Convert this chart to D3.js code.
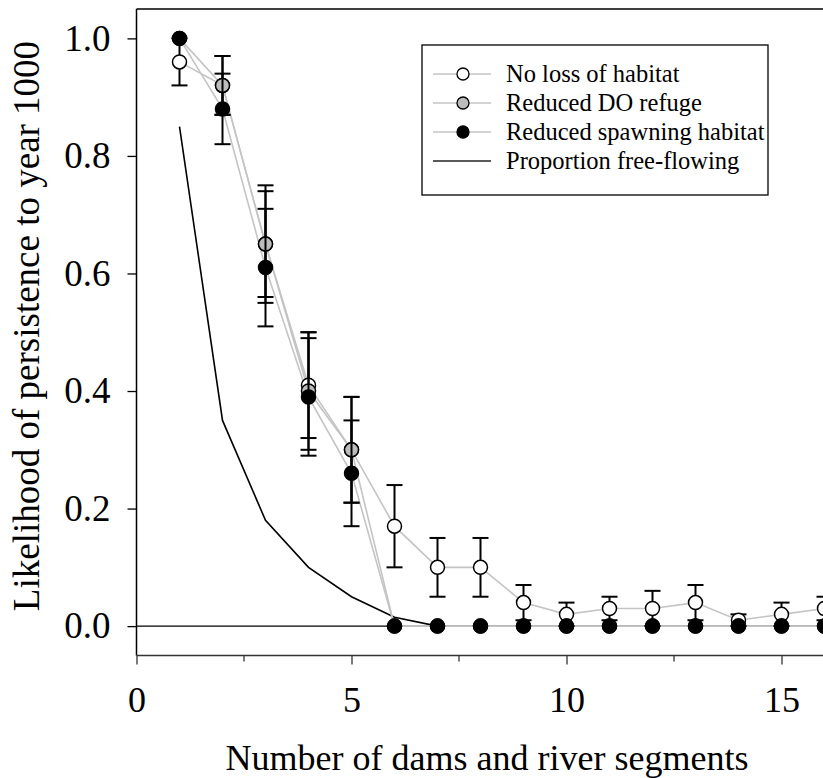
<!DOCTYPE html>
<html>
<head>
<meta charset="utf-8">
<script src="https://cdn.jsdelivr.net/npm/d3@7"></script>
<style>
  html, body { margin: 0; padding: 0; background: #fff; }
  svg { display: block; }
  text { font-family: "Liberation Serif", "Times New Roman", serif; fill: #000; }
</style>
</head>
<body>
<svg id="chart" width="823" height="778"></svg>
<script>
// Number of dams / river segments
const dams = [1, 2, 3, 4, 5, 6, 7, 8, 9, 10, 11, 12, 13, 14, 15, 16];

// Likelihood of persistence to year 1000 (mean and error half-width)
const noLoss      = [0.96, 0.92, 0.65, 0.41, 0.30, 0.17, 0.10, 0.10, 0.04, 0.02, 0.03, 0.03, 0.04, 0.01, 0.02, 0.03];
const noLossErr   = [0.04, 0.05, 0.09, 0.09, 0.09, 0.07, 0.05, 0.05, 0.03, 0.02, 0.02, 0.03, 0.03, 0.01, 0.02, 0.02];
const doRefuge    = [1.00, 0.92, 0.65, 0.40, 0.30, 0, 0, 0, 0, 0, 0, 0, 0, 0, 0, 0];
const doRefugeErr = [0, 0.05, 0.10, 0.10, 0.09, 0, 0, 0, 0, 0, 0, 0, 0, 0, 0, 0];
const spawning    = [1.00, 0.88, 0.61, 0.39, 0.26, 0, 0, 0, 0, 0, 0, 0, 0, 0, 0, 0];
const spawningErr = [0, 0.06, 0.10, 0.10, 0.09, 0, 0, 0, 0, 0, 0, 0, 0, 0, 0, 0];

// Proportion of the river that remains free-flowing
const freeFlowing = [0.85, 0.35, 0.18, 0.10, 0.05, 0.015, 0, 0, 0, 0, 0, 0, 0, 0, 0, 0];

const xTicks = [0, 5, 10, 15];
const xMinorTicks = [2.5, 7.5, 12.5];
const yTicks = [0, 0.2, 0.4, 0.6, 0.8, 1.0];

const series = [
  { name: "No loss of habitat",        values: noLoss,   errors: noLossErr,   fill: "#ffffff" },
  { name: "Reduced DO refuge",         values: doRefuge, errors: doRefugeErr, fill: "#bdbdbd" },
  { name: "Reduced spawning habitat",  values: spawning, errors: spawningErr, fill: "#000000" }
];

const W = 823, H = 778;
const plotLeft = 136.5, plotTop = 9, plotBottom = 655.5;

const svg = d3.select("#chart");

const x = d3.scaleLinear().domain([0, 16]).range([plotLeft, 824.5]);
const y = d3.scaleLinear().domain([-0.05, 1.05]).range([plotBottom, plotTop]);

const lineColor = "#c4c4c4";
const axisColor = "#333";

// frame: top border
svg.append("line")
  .attr("x1", plotLeft).attr("x2", W + 5)
  .attr("y1", plotTop).attr("y2", plotTop)
  .attr("stroke", "#000").attr("stroke-width", 1.5);

// y axis
const yAxis = svg.append("g")
  .attr("transform", `translate(${plotLeft},0)`)
  .call(d3.axisLeft(y).tickValues(yTicks).tickFormat(d3.format(".1f")).tickSize(9).tickPadding(17));
yAxis.select(".domain").remove();
yAxis.append("line")
  .attr("x1", 0).attr("x2", 0).attr("y1", plotTop).attr("y2", plotBottom)
  .attr("stroke", "#000").attr("stroke-width", 1.5);
yAxis.selectAll(".tick line").attr("stroke", "#000").attr("stroke-width", 1.3);
yAxis.selectAll(".tick text")
  .style("font-family", "'Liberation Serif', serif")
  .style("font-size", "37px").attr("fill", "#000");

// x axis
const xAxis = svg.append("g")
  .attr("transform", `translate(0,${plotBottom})`)
  .call(d3.axisBottom(x).tickValues(xTicks).tickFormat(d3.format("d")).tickSize(9).tickPadding(22));
xAxis.select(".domain").remove();
xAxis.append("line")
  .attr("x1", plotLeft).attr("x2", W + 5).attr("y1", 0).attr("y2", 0)
  .attr("stroke", axisColor).attr("stroke-width", 1.5);
xAxis.selectAll(".tick line").attr("stroke", axisColor).attr("stroke-width", 1.3);
xAxis.selectAll(".tick text")
  .style("font-family", "'Liberation Serif', serif")
  .style("font-size", "36px").attr("fill", "#000");
xAxis.selectAll(".minor")
  .data(xMinorTicks).enter().append("line")
  .attr("x1", d => x(d)).attr("x2", d => x(d))
  .attr("y1", 0).attr("y2", 6)
  .attr("stroke", axisColor).attr("stroke-width", 1.3);

// axis titles
svg.append("text")
  .attr("x", 487).attr("y", 770)
  .attr("text-anchor", "middle")
  .style("font-size", "36px")
  .text("Number of dams and river segments");

svg.append("text")
  .attr("transform", `translate(39,${326}) rotate(-90)`)
  .attr("text-anchor", "middle")
  .style("font-size", "37px")
  .text("Likelihood of persistence to year 1000");

// reference line at zero
svg.append("line")
  .attr("x1", x(0)).attr("x2", W + 5)
  .attr("y1", y(0)).attr("y2", y(0))
  .attr("stroke", "#000").attr("stroke-width", 1.3);

// proportion free-flowing
const ffLine = d3.line().x((d, i) => x(dams[i])).y(d => y(d));
svg.append("path")
  .datum(freeFlowing)
  .attr("d", ffLine)
  .attr("fill", "none").attr("stroke", "#000").attr("stroke-width", 1.6);

// connecting lines for the persistence series
const sLine = d3.line().x((d, i) => x(dams[i])).y(d => y(d));
series.forEach(s => {
  svg.append("path")
    .datum(s.values)
    .attr("d", sLine)
    .attr("fill", "none").attr("stroke", lineColor).attr("stroke-width", 1.6);
});

// error bars and markers, one series at a time
const cap = 8;
series.forEach(s => {
  const g = svg.append("g");
  const pts = dams.map((d, i) => ({ x: d, v: s.values[i], e: s.errors[i] })).filter(p => p.e > 0);
  g.selectAll(".bar").data(pts).enter().append("line")
    .attr("x1", p => x(p.x)).attr("x2", p => x(p.x))
    .attr("y1", p => y(p.v + p.e)).attr("y2", p => y(p.v - p.e))
    .attr("stroke", "#000").attr("stroke-width", 2);
  g.selectAll(".capHi").data(pts).enter().append("line")
    .attr("x1", p => x(p.x) - cap).attr("x2", p => x(p.x) + cap)
    .attr("y1", p => y(p.v + p.e)).attr("y2", p => y(p.v + p.e))
    .attr("stroke", "#000").attr("stroke-width", 2);
  g.selectAll(".capLo").data(pts).enter().append("line")
    .attr("x1", p => x(p.x) - cap).attr("x2", p => x(p.x) + cap)
    .attr("y1", p => y(p.v - p.e)).attr("y2", p => y(p.v - p.e))
    .attr("stroke", "#000").attr("stroke-width", 2);
  g.selectAll("circle").data(s.values).enter().append("circle")
    .attr("cx", (d, i) => x(dams[i])).attr("cy", d => y(d))
    .attr("r", 7)
    .attr("fill", s.fill).attr("stroke", "#000").attr("stroke-width", 1.5);
});

// legend
const lg = svg.append("g");
lg.append("rect")
  .attr("x", 422).attr("y", 45).attr("width", 346).attr("height", 150)
  .attr("fill", "#fff").attr("stroke", "#000").attr("stroke-width", 1.3);
const rowY = [74, 103, 132, 161];
const legendItems = [
  { label: series[0].name, fill: series[0].fill, stroke: lineColor, marker: true },
  { label: series[1].name, fill: series[1].fill, stroke: lineColor, marker: true },
  { label: series[2].name, fill: series[2].fill, stroke: lineColor, marker: true },
  { label: "Proportion free-flowing", stroke: "#222", marker: false }
];
legendItems.forEach((it, i) => {
  const yy = rowY[i];
  lg.append("line")
    .attr("x1", 433).attr("x2", 491).attr("y1", yy).attr("y2", yy)
    .attr("stroke", it.stroke).attr("stroke-width", 1.5);
  if (it.marker) {
    lg.append("circle").attr("cx", 463).attr("cy", yy).attr("r", 6)
      .attr("fill", it.fill).attr("stroke", "#000").attr("stroke-width", 1.3);
  }
  lg.append("text")
    .attr("x", 506).attr("y", yy + 8)
    .style("font-size", "24.5px")
    .text(it.label);
});
</script>
</body>
</html>
